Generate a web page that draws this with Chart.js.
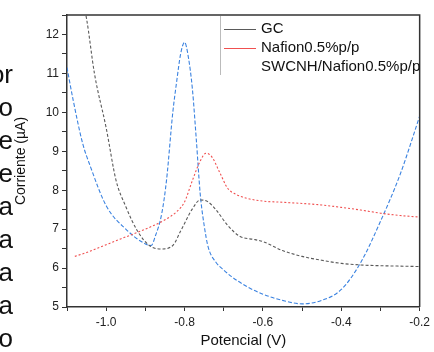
<!DOCTYPE html>
<html>
<head>
<meta charset="utf-8">
<script src="https://cdn.jsdelivr.net/npm/chart.js@4"></script>
<style>
  body { margin: 0; background: #fff; font-family: Arial, "Liberation Sans", sans-serif; }
  #wrap { position: relative; width: 434px; height: 352px; overflow: hidden; }
  #voltChart { position: absolute; left: 0; top: 0; }
  #sideText { position: absolute; left: -60px; top: 58px; width: 73px; text-align: right;
              font-size: 26px; line-height: 33px; color: #111; }
  #legendBox { position: absolute; left: 220px; top: 16px; width: 205px; height: 59px;
               border-left: 1px solid #bbb; }
  .item { position: absolute; left: 3px; height: 19px; font-size: 15px; line-height: 19px; color: #111; white-space: nowrap; }
  .item i { display: inline-block; width: 32px; height: 0; border-top: 1.5px solid; vertical-align: middle; margin-right: 5px; }
</style>
</head>
<body>
<div id="wrap">
  <canvas id="voltChart" width="434" height="352"></canvas>
  <div id="sideText">or<br>o<br>e<br>e<br>a<br>a<br>a<br>a<br>o</div>
  <div id="legendBox"></div>
</div>
<script>
// GC electrode
const gc_x = [-1.06, -1.05, -1.03, -1.0, -0.975, -0.95, -0.92, -0.89, -0.86, -0.83, -0.81, -0.78,
              -0.76, -0.74, -0.72, -0.69, -0.66, -0.62, -0.6, -0.55, -0.5, -0.45, -0.4, -0.35, -0.3, -0.25, -0.2];
const gc_y = [12.85, 12.4, 11.0, 9.6, 8.26, 7.58, 6.95, 6.58, 6.49, 6.58, 6.95, 7.52,
              7.75, 7.7, 7.5, 7.1, 6.82, 6.73, 6.68, 6.45, 6.3, 6.2, 6.12, 6.08, 6.06, 6.05, 6.04];

// Nafion 0.5%
const naf_x = [-1.08, -1.05, -1.0, -0.95, -0.9, -0.85, -0.82, -0.8, -0.78, -0.76, -0.745, -0.73,
               -0.71, -0.69, -0.67, -0.64, -0.6, -0.55, -0.5, -0.45, -0.4, -0.35, -0.3, -0.25, -0.2];
const naf_y = [6.3, 6.4, 6.6, 6.8, 7.0, 7.24, 7.45, 7.7, 8.25, 8.75, 8.95, 8.85,
               8.45, 8.05, 7.9, 7.79, 7.72, 7.69, 7.66, 7.62, 7.56, 7.49, 7.41, 7.35, 7.31];

// SWCNH/Nafion 0.5%
const swc_x = [-1.1, -1.084, -1.06, -1.04, -1.0, -0.95, -0.9, -0.885, -0.875, -0.858, -0.846, -0.83,
               -0.82, -0.81, -0.8, -0.79, -0.78, -0.77, -0.76, -0.75, -0.74, -0.72, -0.7, -0.68,
               -0.64, -0.6, -0.55, -0.5, -0.45, -0.4, -0.35, -0.3, -0.25, -0.2];
const swc_y = [11.15, 10.3, 9.2, 8.6, 7.6, 7.0, 6.62, 6.58, 6.81, 7.41, 8.26, 10.0,
               10.8, 11.5, 11.8, 11.4, 10.6, 9.3, 7.9, 7.1, 6.55, 6.15, 5.95, 5.78,
               5.52, 5.33, 5.17, 5.08, 5.17, 5.45, 6.15, 7.2, 8.4, 9.9];

const labels = ['GC', 'Nafion0.5%p/p', 'SWCNH/Nafion0.5%p/p'];
const colors = ['#5a5a5a', '#f05050', '#3a82e0'];
const showSwatch = [true, true, false];

function pts(xs, ys) { return xs.map((x, i) => ({ x: x, y: ys[i] })); }

const series = [pts(gc_x, gc_y), pts(naf_x, naf_y), pts(swc_x, swc_y)];
const dashes = [[3, 2], [2, 2], [4, 2]];

const data = {
    datasets: series.map((s, i) => ({
        label: labels[i],
        data: s,
        borderColor: colors[i],
        borderWidth: 1.1,
        borderDash: dashes[i],
        pointRadius: 0,
        cubicInterpolationMode: 'monotone',
        fill: false
    }))
};

const axisColor = '#333';

// frame on top and right like the original plot
const framePlugin = {
    id: 'frame',
    afterDraw(chart) {
        const { ctx, chartArea: a } = chart;
        ctx.save();
        ctx.strokeStyle = axisColor;
        ctx.lineWidth = 1.5;
        ctx.beginPath();
        ctx.moveTo(a.left, a.top);
        ctx.lineTo(a.right, a.top);
        ctx.lineTo(a.right, a.bottom);
        ctx.stroke();
        ctx.restore();
    }
};

const config = {
    type: 'line',
    data: data,
    options: {
        responsive: false,
        animation: false,
        layout: { autoPadding: false, padding: { left: 9, right: 8, top: 15, bottom: 0 } },
        plugins: { legend: { display: false }, tooltip: { enabled: false } },
        scales: {
            x: {
                type: 'linear',
                min: -1.1,
                max: -0.2,
                afterFit: (s) => { s.height = 45; },
                border: { color: axisColor, width: 1.5 },
                grid: { drawOnChartArea: false, tickLength: 4, color: axisColor },
                ticks: {
                    stepSize: 0.1,
                    color: '#222',
                    font: { family: 'Arial', size: 12 },
                    padding: 4,
                    maxRotation: 0,
                    autoSkip: false,
                    callback: (v) => {
                        const k = Math.round(v * 10);
                        return (k % 2 === 0) ? (k / 10).toFixed(1) : '';
                    }
                },
                title: { display: true, text: 'Potencial (V)', color: '#111',
                         font: { family: 'Arial', size: 15 }, padding: { top: 2, bottom: 2 } }
            },
            y: {
                min: 5,
                max: 12.5,
                afterFit: (s) => { s.width = 58; },
                border: { color: axisColor, width: 1.5 },
                grid: { drawOnChartArea: false, tickLength: 5, color: axisColor },
                ticks: {
                    stepSize: 0.5,
                    color: '#222',
                    font: { family: 'Arial', size: 12 },
                    padding: 3,
                    autoSkip: false,
                    callback: (v) => Number.isInteger(v) ? String(v) : ''
                },
                title: { display: true, text: 'Corriente (\u00b5A)', color: '#111',
                         font: { family: 'Arial', size: 14 }, padding: { top: 4, bottom: 4 } }
            }
        }
    },
    plugins: [framePlugin]
};

const myChart = new Chart(document.getElementById('voltChart'), config);

// legend drawn in html inside the plot corner
const box = document.getElementById('legendBox');
labels.forEach((t, i) => {
    const d = document.createElement('div');
    d.className = 'item';
    d.style.top = (2 + i * 19) + 'px';
    const sw = document.createElement('i');
    sw.style.borderColor = showSwatch[i] ? colors[i] : 'transparent';
    d.appendChild(sw);
    d.appendChild(document.createTextNode(t));
    box.appendChild(d);
});
</script>
</body>
</html>
